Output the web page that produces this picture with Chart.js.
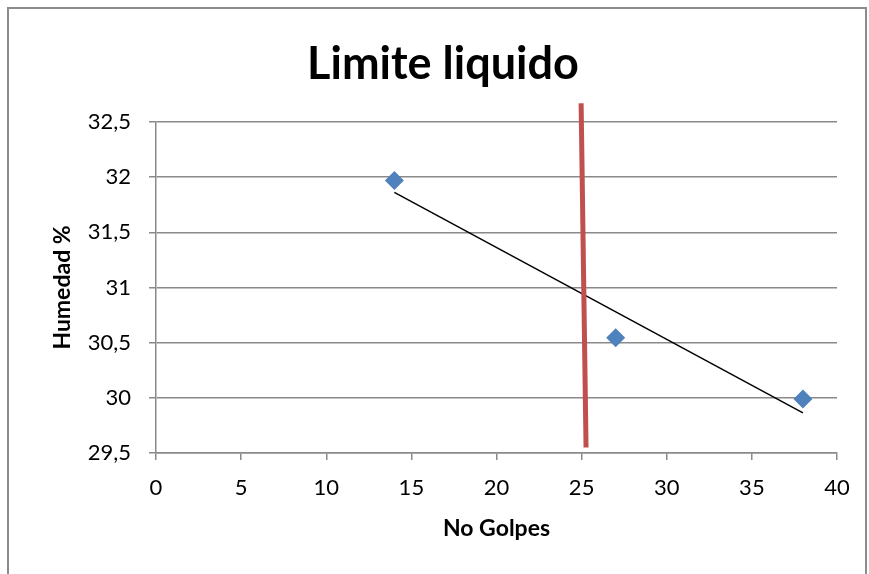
<!DOCTYPE html>
<html>
<head>
<meta charset="utf-8">
<script src="https://cdn.jsdelivr.net/npm/chart.js@4"></script>
<style>
  html, body { margin: 0; padding: 0; background: #fff; }
  #wrap { width: 869px; height: 574px; position: relative; }
</style>
</head>
<body>
<div id="wrap"><canvas id="c" width="869" height="574"></canvas></div>
<script>
// Liquid limit test: blows vs. moisture content
const golpes = [14, 27, 38];
const humedad = [31.97, 30.545, 29.99];
// 25-blow reference line (hand-drawn, slightly tilted)
const refLineX = [24.97, 25.26];
const refLineY = [32.67, 29.55];
const yTicks = [29.5, 30, 30.5, 31, 31.5, 32, 32.5];
const xTicks = [0, 5, 10, 15, 20, 25, 30, 35, 40];

// Least-squares linear trend through the measured points
function linearFit(xs, ys) {
  const n = xs.length;
  const mx = xs.reduce((a, b) => a + b, 0) / n;
  const my = ys.reduce((a, b) => a + b, 0) / n;
  let sxy = 0, sxx = 0;
  for (let i = 0; i < n; i++) { sxy += (xs[i] - mx) * (ys[i] - my); sxx += (xs[i] - mx) ** 2; }
  const m = sxy / sxx;
  return x => my + m * (x - mx);
}
const fit = linearFit(golpes, humedad);
const xMin = Math.min(...golpes), xMax = Math.max(...golpes);

const FONT = 'Lato, "Open Sans", sans-serif';
const GRID = '#8a8a8a';
const PAD_LEFT = 49;

const frame = {
  id: 'frame',
  beforeDraw(chart) {
    const ctx = chart.ctx;
    ctx.save();
    ctx.fillStyle = '#fff';
    ctx.fillRect(0, 0, chart.width, chart.height);
    ctx.strokeStyle = '#8c8c8c';
    ctx.lineWidth = 2;
    ctx.strokeRect(8, 8, 858, 620);
    ctx.restore();
  }
};

new Chart(document.getElementById('c'), {
  type: 'scatter',
  data: {
    datasets: [
      {
        label: 'Humedad',
        data: golpes.map((x, i) => ({ x, y: humedad[i] })),
        pointStyle: 'rectRot',
        pointRadius: 9.5,
        pointHoverRadius: 9.5,
        backgroundColor: '#4F81BD',
        borderColor: '#4F81BD',
        borderWidth: 0,
        order: 1
      },
      {
        label: 'Tendencia',
        type: 'line',
        data: [{ x: xMin, y: fit(xMin) }, { x: xMax, y: fit(xMax) }],
        borderColor: '#000',
        borderWidth: 1.5,
        pointRadius: 0,
        fill: false,
        order: 2
      },
      {
        label: '25 golpes',
        type: 'line',
        data: refLineX.map((x, i) => ({ x, y: refLineY[i] })),
        borderColor: '#C0504D',
        borderWidth: 5,
        pointRadius: 0,
        fill: false,
        clip: false,
        order: 0
      }
    ]
  },
  options: {
    responsive: false,
    animation: false,
    events: [],
    layout: { padding: { left: PAD_LEFT, right: 32, top: 0, bottom: 0 } },
    plugins: {
      legend: { display: false },
      tooltip: { enabled: false },
      title: {
        display: true,
        text: 'Limite liquido',
        color: '#000',
        font: { family: FONT, size: 45, weight: 'bold', lineHeight: 1.2 },
        padding: { top: 37, bottom: 31 }
      }
    },
    scales: {
      x: {
        type: 'linear',
        min: 0, max: 40,
        afterBuildTicks(s) { s.ticks = xTicks.map(v => ({ value: v })); },
        afterFit(s) { s.height = 121; },
        ticks: {
          color: '#000',
          font: { family: FONT, size: 22 },
          padding: 15,
          maxRotation: 0
        },
        grid: { drawOnChartArea: false, drawTicks: true, tickLength: 7, color: GRID, lineWidth: 1.5 },
        border: { color: GRID, width: 1.5 },
        title: {
          display: true,
          text: 'No Golpes',
          color: '#000',
          font: { family: FONT, size: 23, weight: 'bold', lineHeight: 1.2 },
          padding: { top: 0, bottom: 32 }
        }
      },
      y: {
        type: 'linear',
        min: 29.5, max: 32.5,
        afterBuildTicks(s) { s.ticks = yTicks.map(v => ({ value: v })); },
        afterFit(s) { s.width = 156 - PAD_LEFT; },
        ticks: {
          color: '#000',
          font: { family: FONT, size: 22 },
          padding: 18,
          callback: v => String(v).replace('.', ',')
        },
        grid: { drawOnChartArea: true, drawTicks: true, tickLength: 7, color: GRID, lineWidth: 1.5 },
        border: { color: GRID, width: 1.5 },
        title: {
          display: true,
          text: 'Humedad %',
          color: '#000',
          font: { family: FONT, size: 23, weight: 'bold', lineHeight: 1.2 },
          padding: { top: 0, bottom: 0 }
        }
      }
    }
  },
  plugins: [frame]
});
</script>
</body>
</html>
